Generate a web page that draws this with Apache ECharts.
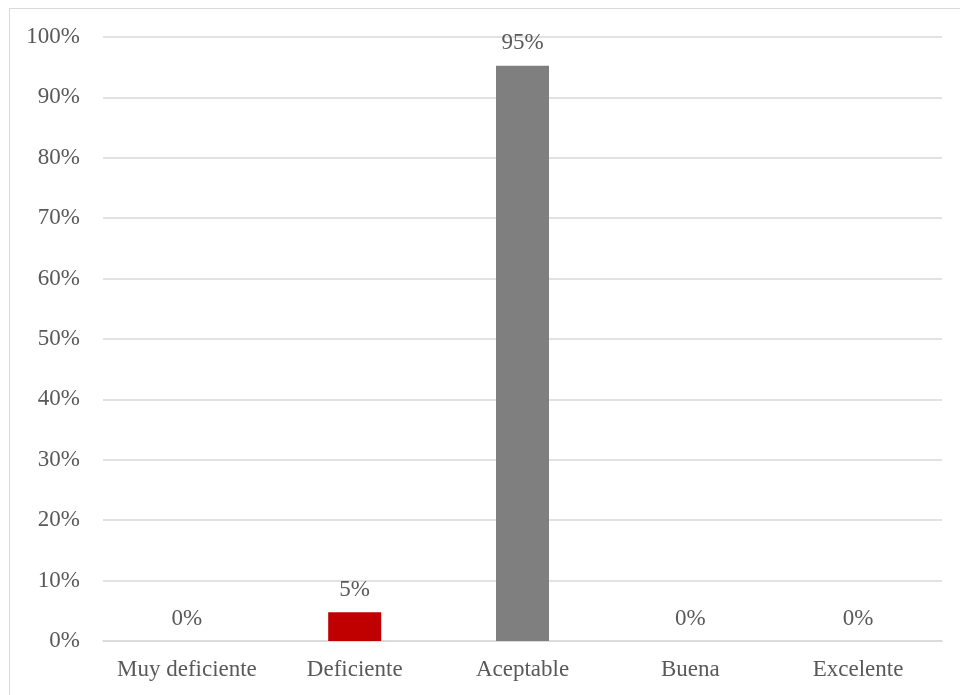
<!DOCTYPE html>
<html>
<head>
<meta charset="utf-8">
<script src="https://cdn.jsdelivr.net/npm/echarts@6/dist/echarts.min.js"></script>
<style>
html, body { margin: 0; padding: 0; background: #fff; }
#chart { width: 960px; height: 695px; }
</style>
</head>
<body>
<div id="chart"></div>
<script>
// categorias y valores (%)
var categories = ['Muy deficiente', 'Deficiente', 'Aceptable', 'Buena', 'Excelente'];
var values = [0, 4.76, 95.24, 0, 0];
var barColors = ['#7f7f7f', '#c00000', '#7f7f7f', '#7f7f7f', '#7f7f7f'];
var yTicks = [0, 10, 20, 30, 40, 50, 60, 70, 80, 90, 100];

var font = '"Liberation Serif", "Times New Roman", serif';
var textColor = '#595959';

var chart = echarts.init(document.getElementById('chart'));

var option = {
	animation: false,
	backgroundColor: '#fff',
	graphic: [{
		type: 'rect',
		shape: { x: 9.5, y: 8.5, width: 970, height: 700 },
		style: { fill: 'none', stroke: '#d9d9d9', lineWidth: 1 },
		silent: true
	}],
	grid: {
		left: 103,
		right: 18,
		top: 37,
		bottom: 54
	},
	xAxis: {
		type: 'category',
		data: categories,
		axisLine: { lineStyle: { color: '#d9d9d9', width: 1.5 } },
		axisTick: { show: false },
		axisLabel: {
			interval: 0,
			hideOverlap: false,
			color: textColor,
			fontFamily: font,
			fontSize: 23,
			margin: 17
		}
	},
	yAxis: {
		type: 'value',
		min: yTicks[0],
		max: yTicks[yTicks.length - 1],
		interval: 10,
		axisLine: { show: false },
		axisTick: { show: false },
		splitLine: { lineStyle: { color: '#d9d9d9', width: 1.5 } },
		axisLabel: {
			color: textColor,
			fontFamily: font,
			fontSize: 23,
			margin: 23,
			formatter: function (v) { return v + '%'; }
		}
	},
	series: [{
		type: 'bar',
		barWidth: 53,
		data: values.map(function (v, i) {
			return { value: v, itemStyle: { color: barColors[i] } };
		}),
		label: {
			show: true,
			position: 'top',
			distance: 11,
			color: textColor,
			fontFamily: font,
			fontSize: 23,
			formatter: function (p) { return Math.round(p.value) + '%'; }
		}
	}]
};

chart.setOption(option);
</script>
</body>
</html>
